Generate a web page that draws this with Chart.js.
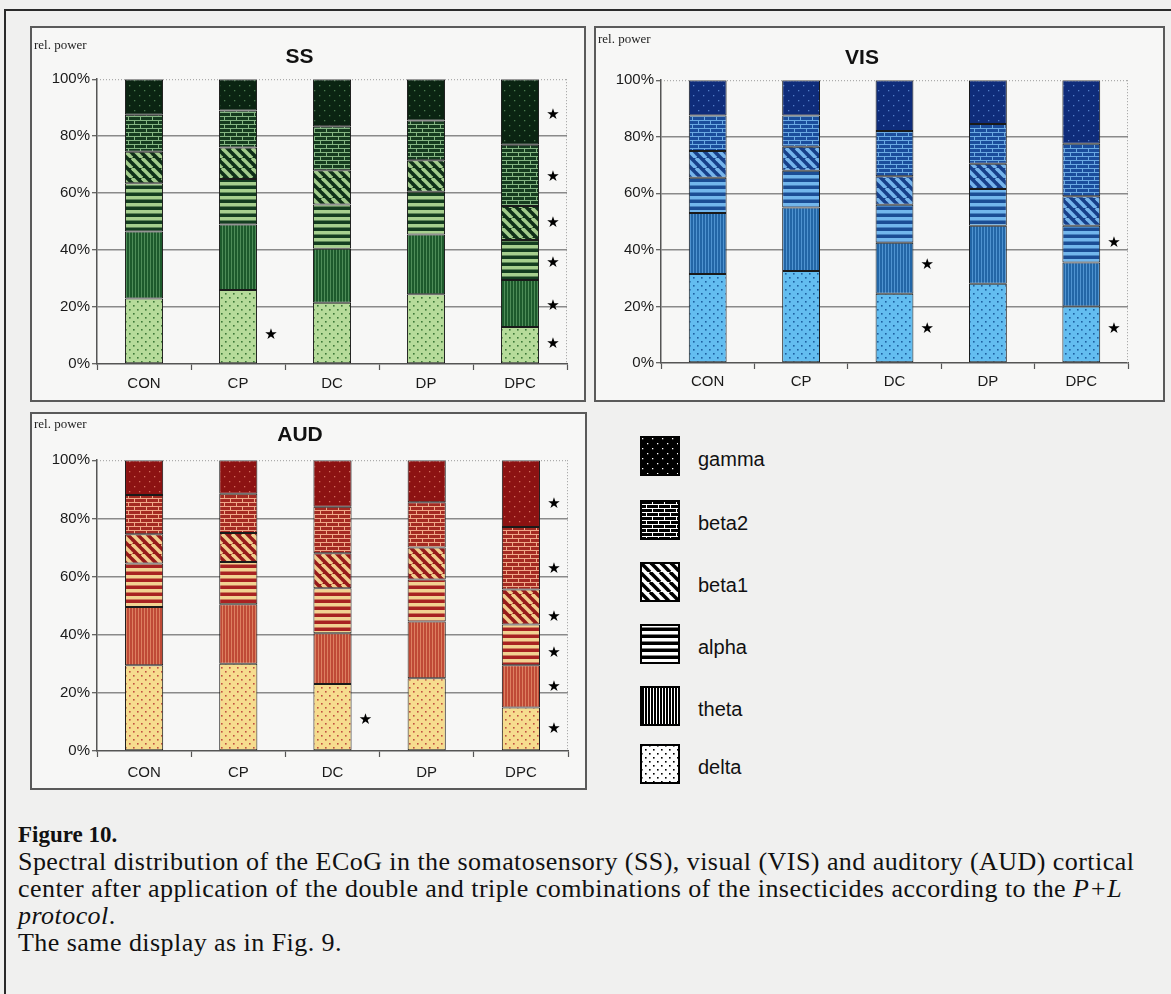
<!DOCTYPE html>
<html>
<head>
<meta charset="utf-8">
<script src="https://cdn.jsdelivr.net/npm/chart.js@4/dist/chart.umd.min.js"></script>
<style>
  html, body { margin:0; padding:0; }
  body { width:1171px; height:994px; background:#f0f0ef; position:relative; overflow:hidden; font-family:'Liberation Sans', Arial, sans-serif; }
  #frame { position:absolute; left:4px; top:9px; width:1300px; height:1200px; border:2px solid #2a2a2a; box-sizing:border-box; }
  .panel { position:absolute; border:2px solid #5a5a5a; background:#f7f7f6; box-sizing:border-box; }
  .panel canvas { position:absolute; left:0; top:0; }
  .leg { position:absolute; left:640px; width:40px; height:40px; }
  .legtxt { position:absolute; left:698px; font-size:20px; color:#111; line-height:22px; }
  #caption { position:absolute; left:18px; top:820px; font-family:'Liberation Serif','Times New Roman',serif; font-size:26px; line-height:27px; letter-spacing:0.45px; color:#111; white-space:nowrap; }
  #caption b { font-size:23px; letter-spacing:0; }
</style>
</head>
<body>
<div id="frame"></div>
<div class="panel" style="left:30px; top:26px; width:556px; height:376px;"><canvas id="ss" width="552" height="372"></canvas></div>
<div class="panel" style="left:594px; top:26px; width:571px; height:376px;"><canvas id="vis" width="567" height="372"></canvas></div>
<div class="panel" style="left:30px; top:412px; width:557px; height:378px;"><canvas id="aud" width="553" height="374"></canvas></div>
<div id="legend"></div>
<div id="caption">
  <div><b>Figure 10.</b></div>
  <div>Spectral distribution of the ECoG in the somatosensory (SS), visual (VIS) and auditory (AUD) cortical</div>
  <div>center after application of the double and triple combinations of the insecticides according to the <i>P+L</i></div>
  <div><i>protocol</i>.</div>
  <div>The same display as in Fig. 9.</div>
</div>
<script>
// ---------------- DATA ----------------
const categories = ['CON', 'CP', 'DC', 'DP', 'DPC'];
const bands = ['delta', 'theta', 'alpha', 'beta1', 'beta2', 'gamma'];
const legendOrder = ['gamma', 'beta2', 'beta1', 'alpha', 'theta', 'delta'];
const yTickValues = [0, 20, 40, 60, 80, 100];

// SS (somatosensory) relative power, %
const ssDelta = [23, 26, 21.5, 24.5, 13];
const ssTheta = [23.5, 23, 19, 21, 16.5];
const ssAlpha = [17, 16, 15.5, 15, 14];
const ssBeta1 = [11, 11, 12, 11, 12];
const ssBeta2 = [13, 13, 15.5, 14, 21.5];
const ssGamma = [12.5, 11, 16.5, 14.5, 23];

// VIS (visual)
const visDelta = [31.5, 32.5, 24.5, 28, 20];
const visTheta = [21.5, 22.5, 18, 20.5, 15.5];
const visAlpha = [12.5, 13, 13.5, 13, 13];
const visBeta1 = [9.5, 8.5, 10, 9, 10.5];
const visBeta2 = [12.5, 11, 16, 14, 18.5];
const visGamma = [12.5, 12.5, 18, 15.5, 22.5];

// AUD (auditory)
const audDelta = [29.5, 30, 23, 25, 15];
const audTheta = [20, 20.5, 17.5, 19.5, 14.5];
const audAlpha = [15, 14.5, 15.5, 14.5, 14];
const audBeta1 = [10, 10, 12, 11, 12];
const audBeta2 = [13.5, 13.5, 16, 15.5, 21.5];
const audGamma = [12, 11.5, 16, 14.5, 23];

// significance stars (category, y level in %)
const ssStarCats = ['CP', 'DPC', 'DPC', 'DPC', 'DPC', 'DPC', 'DPC'];
const ssStarVals = [10, 7, 20.5, 35.5, 49.5, 65.5, 87.5];
const visStarCats = ['DC', 'DC', 'DPC', 'DPC'];
const visStarVals = [12, 34.5, 12, 42.5];
const audStarCats = ['DC', 'DPC', 'DPC', 'DPC', 'DPC', 'DPC', 'DPC'];
const audStarVals = [10.5, 7.5, 22, 33.5, 46, 62.5, 85];

// ---------------- STYLE ----------------
const patternType = { delta:'dots', theta:'vlines', alpha:'hlines', beta1:'diag', beta2:'brick', gamma:'sparse' };
const ssColors = {
  delta:['#b6db9a','#3d7838'], theta:['#1d5a2c','#4e8c58'], alpha:['#143d20','#a6cf8e'],
  beta1:['#0f2f18','#a2cb8b'], beta2:['#153b1f','#84b682'], gamma:['#0b2412','#4a7a4e']
};
const visColors = {
  delta:['#63bdf0','#1d5fa0'], theta:['#2366a6','#4f93d0'], alpha:['#1b4d95','#72b6ec'],
  beta1:['#163f8a','#75b4ec'], beta2:['#1b4d9c','#6aa9e2'], gamma:['#0f2c7a','#4f7cc8']
};
const audColors = {
  delta:['#f6dc8e','#c05040'], theta:['#bf4a36','#dd8060'], alpha:['#a82222','#f2d292'],
  beta1:['#961a1a','#f2cc8c'], beta2:['#a42a22','#f0a888'], gamma:['#8c1212','#d06a5a']
};
const legendColors = {
  delta:['#ffffff','#000000'], theta:['#000000','#ffffff'], alpha:['#000000','#ffffff'],
  beta1:['#ffffff','#000000'], beta2:['#000000','#ffffff'], gamma:['#000000','#ffffff']
};

function makeTile(type, bg, fg) {
  const c = document.createElement('canvas');
  let w = 8, h = 8;
  if (type === 'dots') { w = 8; h = 8; }
  else if (type === 'vlines') { w = 3; h = 3; }
  else if (type === 'hlines') { w = 4; h = 7; }
  else if (type === 'diag') { w = 10; h = 10; }
  else if (type === 'brick') { w = 12; h = 8; }
  else if (type === 'sparse') { w = 10; h = 10; }
  c.width = w; c.height = h;
  const g = c.getContext('2d');
  g.fillStyle = bg; g.fillRect(0, 0, w, h);
  g.fillStyle = fg; g.strokeStyle = fg;
  if (type === 'dots') { g.fillRect(1, 1, 1.6, 1.6); g.fillRect(5, 5, 1.6, 1.6); }
  else if (type === 'vlines') { g.fillRect(1, 0, 1, h); }
  else if (type === 'hlines') { g.fillRect(0, 0, w, 3.5); }
  else if (type === 'diag') {
    g.lineWidth = 3.6;
    for (const o of [-10, 0, 10]) { g.beginPath(); g.moveTo(o, 0); g.lineTo(o + 10, 10); g.stroke(); }
  }
  else if (type === 'brick') {
    g.fillRect(0, 0, w, 1); g.fillRect(0, 4, w, 1);
    g.fillRect(0, 0, 1, 4); g.fillRect(6, 4, 1, 4);
  }
  else if (type === 'sparse') { g.fillRect(2, 2, 1.3, 1.3); g.fillRect(7, 7, 1.3, 1.3); }
  return c;
}
function makePattern(ctx, type, cols) {
  return ctx.createPattern(makeTile(type, cols[0], cols[1]), 'repeat');
}

const decorPlugin = {
  id: 'decor',
  afterDraw(chart, args, opts) {
    const ctx = chart.ctx, a = chart.chartArea;
    const x = chart.scales.x, y = chart.scales.y;
    ctx.save();
    // dotted top (100%) and right border of plot area
    ctx.strokeStyle = '#9a9a9a'; ctx.lineWidth = 1; ctx.setLineDash([1, 2]);
    ctx.beginPath();
    ctx.moveTo(a.left, y.getPixelForValue(100) + 0.5); ctx.lineTo(a.right, y.getPixelForValue(100) + 0.5);
    ctx.moveTo(a.right - 0.5, a.top); ctx.lineTo(a.right - 0.5, a.bottom);
    ctx.stroke();
    ctx.setLineDash([]);
    // y-axis caption
    ctx.fillStyle = '#222';
    ctx.font = "13px 'Liberation Serif', 'Times New Roman', serif";
    ctx.textBaseline = 'middle'; ctx.textAlign = 'left';
    ctx.fillText(opts.yCaption, opts.capX, opts.capY);
    // stars
    const step = x.getPixelForValue(1) - x.getPixelForValue(0);
    ctx.font = "15px 'DejaVu Sans', sans-serif";
    ctx.textAlign = 'center'; ctx.fillStyle = '#000';
    opts.starCats.forEach((cat, i) => {
      const px = x.getPixelForValue(categories.indexOf(cat)) + step * 0.35;
      const py = y.getPixelForValue(opts.starVals[i]);
      ctx.fillText('\u2605', px, py);
    });
    ctx.restore();
  }
};

function buildChart(id, title, series, colors, stars, geo) {
  const canvas = document.getElementById(id);
  const ctx = canvas.getContext('2d');
  const datasets = bands.map((b, i) => ({
    label: b,
    data: series[i],
    backgroundColor: makePattern(ctx, patternType[b], colors[b]),
    borderColor: '#1a1a1a',
    borderWidth: 1,
    borderSkipped: false,
    barPercentage: 0.405,
    categoryPercentage: 1.0
  }));
  return new Chart(ctx, {
    type: 'bar',
    data: { labels: categories, datasets },
    plugins: [decorPlugin],
    options: {
      responsive: false,
      animation: false,
      devicePixelRatio: 1,
      layout: { padding: { left: 0, right: geo.right, top: 0, bottom: 0 } },
      plugins: {
        legend: { display: false },
        tooltip: { enabled: false },
        title: {
          display: true, text: title, color: '#111',
          font: { family: "'Liberation Sans', Arial, sans-serif", size: 21, weight: 'bold' },
          padding: { top: geo.titleTop, bottom: geo.titleBottom }
        },
        decor: { yCaption: 'rel. power', capX: geo.capX, capY: geo.capY, starCats: stars[0], starVals: stars[1] }
      },
      scales: {
        x: {
          stacked: true,
          afterFit: s => { s.height = geo.xh; },
          grid: { offset: true, drawOnChartArea: false, drawTicks: true, tickLength: 6, tickColor: '#555', tickWidth: 1.2 },
          border: { color: '#555', width: 1.5 },
          ticks: { color: '#1a1a1a', font: { size: 15 }, padding: geo.xpad }
        },
        y: {
          stacked: true, min: 0, max: 100,
          afterFit: s => { s.width = 65; },
          afterBuildTicks: s => { s.ticks = yTickValues.map(v => ({ value: v })); },
          grid: {
            color: c => (c.tick && (c.tick.value === 100 || c.tick.value === 0)) ? 'rgba(0,0,0,0)' : '#8a8a8a',
            lineWidth: 1.4, drawTicks: true, tickLength: 5, tickColor: '#555', tickWidth: 1.2
          },
          border: { color: '#555', width: 1.5 },
          ticks: { color: '#1a1a1a', font: { size: 15 }, padding: 2, callback: v => v + '%' }
        }
      }
    }
  });
}

buildChart('ss', 'SS', [ssDelta, ssTheta, ssAlpha, ssBeta1, ssBeta2, ssGamma], ssColors,
  [ssStarCats, ssStarVals], { right: 17, titleTop: 17, titleBottom: 9, xh: 36, xpad: 5, capX: 2, capY: 18 });
buildChart('vis', 'VIS', [visDelta, visTheta, visAlpha, visBeta1, visBeta2, visGamma], visColors,
  [visStarCats, visStarVals], { right: 35, titleTop: 18, titleBottom: 9, xh: 37, xpad: 4, capX: 2, capY: 12 });
buildChart('aud', 'AUD', [audDelta, audTheta, audAlpha, audBeta1, audBeta2, audGamma], audColors,
  [audStarCats, audStarVals], { right: 17, titleTop: 9, titleBottom: 12, xh: 37, xpad: 7, capX: 2, capY: 11 });

// legend (pattern swatches)
const legendTops = { gamma: 436, beta2: 500, beta1: 562, alpha: 624, theta: 686, delta: 744 };
const legendDiv = document.getElementById('legend');
legendOrder.forEach(b => {
  const c = document.createElement('canvas');
  c.width = 40; c.height = 40; c.className = 'leg';
  c.style.top = legendTops[b] + 'px';
  const g = c.getContext('2d');
  g.fillStyle = makePattern(g, patternType[b], legendColors[b]);
  g.fillRect(0, 0, 40, 40);
  g.strokeStyle = '#000'; g.lineWidth = 2; g.strokeRect(1, 1, 38, 38);
  legendDiv.appendChild(c);
  const t = document.createElement('div');
  t.className = 'legtxt'; t.textContent = b;
  t.style.top = (legendTops[b] + 12) + 'px';
  legendDiv.appendChild(t);
});
</script>
</body>
</html>
